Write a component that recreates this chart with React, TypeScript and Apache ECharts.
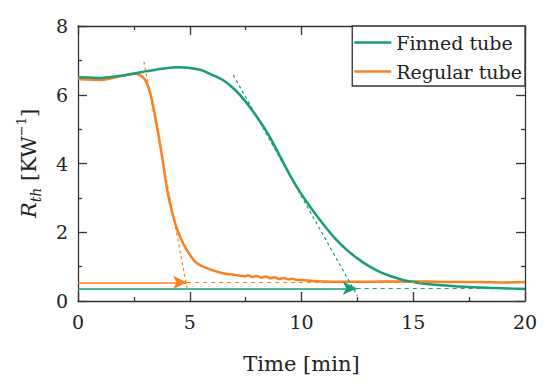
import React, { useEffect, useRef } from "react";
import * as echarts from "echarts";

const finnedTime = [0, 0.5, 1, 1.5, 2, 2.5, 3, 3.5, 4, 4.5, 5, 5.5, 6, 6.5, 7, 7.5, 8, 8.5, 9, 9.5, 10, 10.5, 11, 11.5, 12, 12.5, 13, 13.5, 14, 14.5, 15, 15.5, 16, 16.5, 17, 17.5, 18, 18.5, 19, 19.5, 20];
const finnedR = [6.51, 6.5, 6.49, 6.52, 6.56, 6.61, 6.68, 6.73, 6.78, 6.8, 6.78, 6.72, 6.58, 6.42, 6.16, 5.8, 5.36, 4.86, 4.26, 3.64, 3.1, 2.64, 2.21, 1.82, 1.5, 1.24, 1.02, 0.85, 0.72, 0.62, 0.55, 0.5, 0.47, 0.45, 0.42, 0.41, 0.39, 0.38, 0.37, 0.36, 0.35];

const regularTime = [0, 0.5, 1, 1.5, 2, 2.5, 2.75, 3, 3.25, 3.5, 3.75, 4, 4.25, 4.5, 4.75, 5, 5.25, 5.5, 6, 6.5, 7, 7.5, 7.6, 7.8, 8, 8.2, 8.4, 8.6, 8.8, 9, 9.2, 9.4, 9.6, 9.8, 10, 10.5, 11, 12, 13, 14, 15, 16, 17, 18, 19, 20];
const regularR = [6.46, 6.44, 6.43, 6.48, 6.55, 6.62, 6.58, 6.44, 6.0, 5.2, 4.25, 3.2, 2.48, 1.97, 1.62, 1.35, 1.14, 1.03, 0.9, 0.81, 0.76, 0.72, 0.75, 0.7, 0.73, 0.68, 0.71, 0.66, 0.69, 0.64, 0.67, 0.63, 0.65, 0.61, 0.61, 0.58, 0.57, 0.56, 0.56, 0.57, 0.57, 0.56, 0.55, 0.55, 0.54, 0.55];

const seriesNames = ["Finned tube", "Regular tube"];
const xTicks = [0, 5, 10, 15, 20];
const yTicks = [0, 2, 4, 6, 8];

// annotation values (in data units)
const orangeTangent = [[2.95, 6.96], [4.88, 0.38]];
const orangeLevel = 0.54;
const orangeArrowEnd = 4.88;
const greenTangent = [[6.95, 6.57], [12.5, 0.15]];
const greenLevel = 0.37;
const greenArrowEnd = 12.47;

const GREEN = "#1a9b7a";
const ORANGE = "#fb8020";
const AXIS = "#333333";
const FONT = "DejaVu Serif";

export default function App() {
  const ref = useRef<HTMLDivElement>(null);
  useEffect(() => {
    if (!ref.current) return;
    const chart = echarts.init(ref.current, undefined, { renderer: "svg" });
    const axisCommon = {
      type: "value" as const,
      axisLine: { show: true, onZero: false, lineStyle: { color: AXIS, width: 1.3 } },
      axisTick: { show: true, inside: true, length: 9, lineStyle: { color: AXIS, width: 1.3 } },
      minorTick: { show: true, splitNumber: 2, length: 4, lineStyle: { color: AXIS, width: 1.3 } },
      splitLine: { show: false },
    };
    chart.setOption({
      animation: false,
      backgroundColor: "#ffffff",
      grid: { left: 78, right: 25, top: 26, bottom: 89 },
      legend: {
        right: 25,
        top: 26,
        orient: "vertical",
        align: "left",
        data: seriesNames.map((n) => ({ name: n, icon: "rect" })),
        itemWidth: 37,
        itemHeight: 2.5,
        itemGap: 10,
        padding: [7, 3, 5, 2],
        borderColor: AXIS,
        borderWidth: 1.3,
        borderRadius: 0,
        backgroundColor: "#fff",
        textStyle: { fontFamily: FONT, fontSize: 19, color: "#222" },
      },
      xAxis: [
        {
          ...axisCommon,
          min: 0,
          max: 20,
          interval: 5,
          position: "bottom",
          axisLabel: { fontFamily: FONT, fontSize: 19, color: "#222", margin: 11, customValues: xTicks },
          name: "Time [min]",
          nameLocation: "middle",
          nameGap: 52,
          nameTextStyle: { fontFamily: FONT, fontSize: 21, color: "#222" },
        },
        {
          ...axisCommon,
          min: 0,
          max: 20,
          interval: 5,
          position: "top",
          axisLabel: { show: false },
        },
      ],
      yAxis: [
        {
          ...axisCommon,
          min: 0,
          max: 8,
          interval: 2,
          position: "left",
          axisLabel: { fontFamily: FONT, fontSize: 19, color: "#222", margin: 10, customValues: yTicks },
          name: "{r|R}{s|th}{n| [KW}{p|−1}{n|]}",
          nameLocation: "middle",
          nameGap: 35,
          nameTextStyle: {
            fontFamily: FONT,
            color: "#222",
            rich: {
              r: { fontFamily: FONT, fontSize: 21, fontStyle: "italic", lineHeight: 28, color: "#222" },
              s: { fontFamily: FONT, fontSize: 14, fontStyle: "italic", lineHeight: 14, verticalAlign: "bottom", color: "#222" },
              n: { fontFamily: FONT, fontSize: 21, lineHeight: 28, color: "#222" },
              p: { fontFamily: FONT, fontSize: 13, lineHeight: 13, verticalAlign: "top", color: "#222" },
            },
          },
        },
        {
          ...axisCommon,
          min: 0,
          max: 8,
          interval: 2,
          position: "right",
          axisLabel: { show: false },
        },
      ],
      series: [
        {
          name: "annot-orange",
          type: "line",
          data: [],
          silent: true,
          markLine: {
            silent: true,
            animation: false,
            label: { show: false },
            symbol: ["none", "none"],
            data: [
              [
                { coord: orangeTangent[0], lineStyle: { color: ORANGE, type: [3, 3], width: 1.2 } },
                { coord: orangeTangent[1] },
              ],
              [
                { coord: [0, orangeLevel], symbol: "none", lineStyle: { color: ORANGE, type: "solid", width: 1.5 } },
                { coord: [orangeArrowEnd, orangeLevel], symbol: "arrow", symbolSize: [10, 14] },
              ],
              [
                { coord: [orangeArrowEnd, orangeLevel], lineStyle: { color: ORANGE, type: [4, 4], width: 1.2 } },
                { coord: [20, orangeLevel] },
              ],
            ],
          },
        },
        {
          name: "annot-green",
          type: "line",
          data: [],
          silent: true,
          markLine: {
            silent: true,
            animation: false,
            label: { show: false },
            symbol: ["none", "none"],
            data: [
              [
                { coord: greenTangent[0], lineStyle: { color: GREEN, type: [3, 3], width: 1.2 } },
                { coord: greenTangent[1] },
              ],
              [
                { coord: [0, greenLevel], symbol: "none", lineStyle: { color: GREEN, type: "solid", width: 1.5 } },
                { coord: [greenArrowEnd, greenLevel], symbol: "arrow", symbolSize: [10, 14] },
              ],
              [
                { coord: [greenArrowEnd, greenLevel], lineStyle: { color: GREEN, type: [4, 4], width: 1.2 } },
                { coord: [20, greenLevel] },
              ],
            ],
          },
        },
        {
          name: seriesNames[1],
          type: "line",
          data: regularTime.map((t, i) => [t, regularR[i]]),
          showSymbol: false,
          symbol: "none",
          smooth: 0.3,
          color: ORANGE,
          lineStyle: { color: ORANGE, width: 2.5 },
        },
        {
          name: seriesNames[0],
          type: "line",
          data: finnedTime.map((t, i) => [t, finnedR[i]]),
          showSymbol: false,
          symbol: "none",
          smooth: 0.3,
          color: GREEN,
          lineStyle: { color: GREEN, width: 2.5 },
        },
      ],
    });
    return () => chart.dispose();
  }, []);
  return <div ref={ref} style={{ width: 550, height: 390, position: "absolute", left: 0, top: 0 }} />;
}
